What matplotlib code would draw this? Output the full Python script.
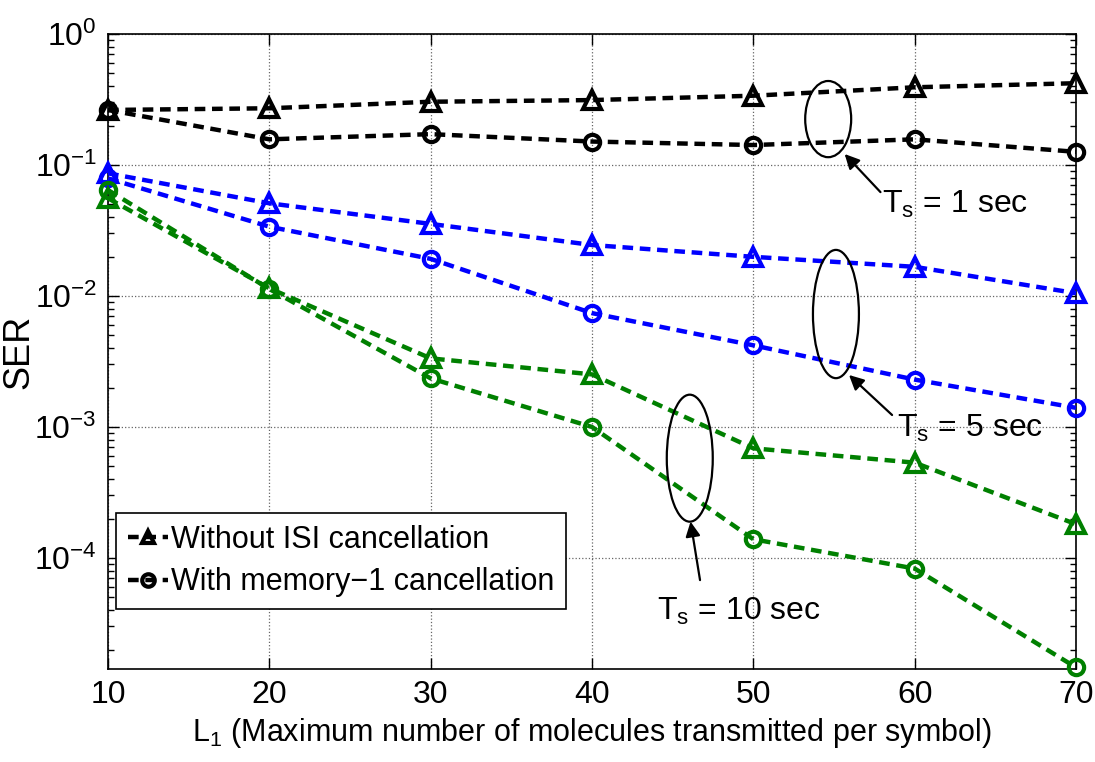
import matplotlib
matplotlib.use('Agg')
import matplotlib.pyplot as plt
import numpy as np
from matplotlib.patches import Ellipse
from matplotlib.ticker import LogLocator, FixedLocator

# data
L1 = [10, 20, 30, 40, 50, 60, 70]
ts1_no_isi = [0.263, 0.271, 0.304, 0.313, 0.338, 0.392, 0.421]
ts1_mem1 = [0.263, 0.157, 0.172, 0.151, 0.142, 0.157, 0.126]
ts5_no_isi = [0.0864, 0.051, 0.0355, 0.0245, 0.0199, 0.0167, 0.0105]
ts5_mem1 = [0.079, 0.0338, 0.0192, 0.0074, 0.0042, 0.0023, 0.0014]
ts10_no_isi = [0.0557, 0.01145, 0.00334, 0.00252, 0.000687, 0.000534, 0.000181]
ts10_mem1 = [0.0644, 0.0113, 0.00235, 0.0010, 0.000139, 8.3e-5, 1.46e-5]

labels = ['Without ISI cancellation', 'With memory\u22121 cancellation']
xticks = [10, 20, 30, 40, 50, 60, 70]

plt.rcParams['font.family'] = ['Liberation Sans', 'DejaVu Sans']
plt.rcParams['mathtext.fontset'] = 'custom'
plt.rcParams['mathtext.rm'] = 'Liberation Sans'
plt.rcParams['mathtext.it'] = 'Liberation Sans'
plt.rcParams['mathtext.default'] = 'regular'
plt.rcParams['font.size'] = 22

fig = plt.figure(figsize=(10.95, 7.62), dpi=100)
ax = fig.add_axes([108/1095, 93/762, 968/1095, 635/762])

dash = (2.4, 1.5)
green = (0, 0.5, 0)
series = [
    (ts1_no_isi, 'k', '^', labels[0]),
    (ts1_mem1, 'k', 'o', labels[1]),
    (ts5_no_isi, 'b', '^', None),
    (ts5_mem1, 'b', 'o', None),
    (ts10_no_isi, green, '^', None),
    (ts10_mem1, green, 'o', None),
]
for ys, c, m, lab in series:
    ax.plot(L1, ys, color=c, ls='--', dashes=dash, lw=3.2, marker=m,
            ms=13 if m == '^' else 11, mfc='none', mec=c, mew=3,
            label=lab, clip_on=False, zorder=3)

ax.set_yscale('log')
ax.set_xlim(10, 70)
ax.set_ylim(1.42e-5, 1)
ax.xaxis.set_major_locator(FixedLocator(xticks))
ax.yaxis.set_major_locator(LogLocator(base=10, numticks=10))
ax.yaxis.set_minor_locator(LogLocator(base=10, subs=np.arange(2, 10), numticks=10))
ax.tick_params(which='both', direction='in', top=True, right=True, width=1, labelsize=23, pad=8)
ax.tick_params(which='major', length=8)
ax.tick_params(which='minor', length=4)
ax.grid(True, which='major', ls=':', color='0.4', lw=0.9)
for s in ax.spines.values():
    s.set_linewidth(1.2)

ax.set_xlabel(r'L$_1$ (Maximum number of molecules transmitted per symbol)', fontsize=22, labelpad=4)
ax.set_ylabel('SER', fontsize=26)
ax.yaxis.set_label_coords(-0.074, 0.5)

leg = ax.legend(loc='upper left', bbox_to_anchor=(0.008, 0.246), borderaxespad=0,
                fontsize=22, handlelength=1.3, handletextpad=0.1, borderpad=0.4,
                labelspacing=0.4, fancybox=False, framealpha=1, edgecolor='k')
leg.get_frame().set_linewidth(1.2)
for h in leg.legend_handles:
    h.set_markersize(9)

# ellipses and annotations (axes fraction)
for cx, cy, h in [(0.744, 0.866, 0.120), (0.752, 0.559, 0.202), (0.601, 0.332, 0.200)]:
    ax.add_patch(Ellipse((cx, cy), 0.0475, h, transform=ax.transAxes,
                         fill=False, ec='k', lw=1.6, zorder=4))

notes = [
    (r'T$_s$ = 1 sec', (0.761, 0.811), (0.798, 0.751), (0.800, 0.718)),
    (r'T$_s$ = 5 sec', (0.7655, 0.463), (0.810, 0.400), (0.815, 0.365)),
    (r'T$_s$ = 10 sec', (0.6018, 0.232), (0.6116, 0.140), (0.567, 0.077)),
]
for txt, head, tail, tpos in notes:
    ax.annotate('', xy=head, xytext=tail, xycoords='axes fraction',
                textcoords='axes fraction',
                arrowprops=dict(arrowstyle='-|>', color='k', lw=1.6, mutation_scale=22,
                                shrinkA=0, shrinkB=0))
    ax.text(tpos[0], tpos[1], txt, transform=ax.transAxes, fontsize=23,
            ha='left', va='baseline', zorder=5)

fig.savefig('out.png', dpi=100)
